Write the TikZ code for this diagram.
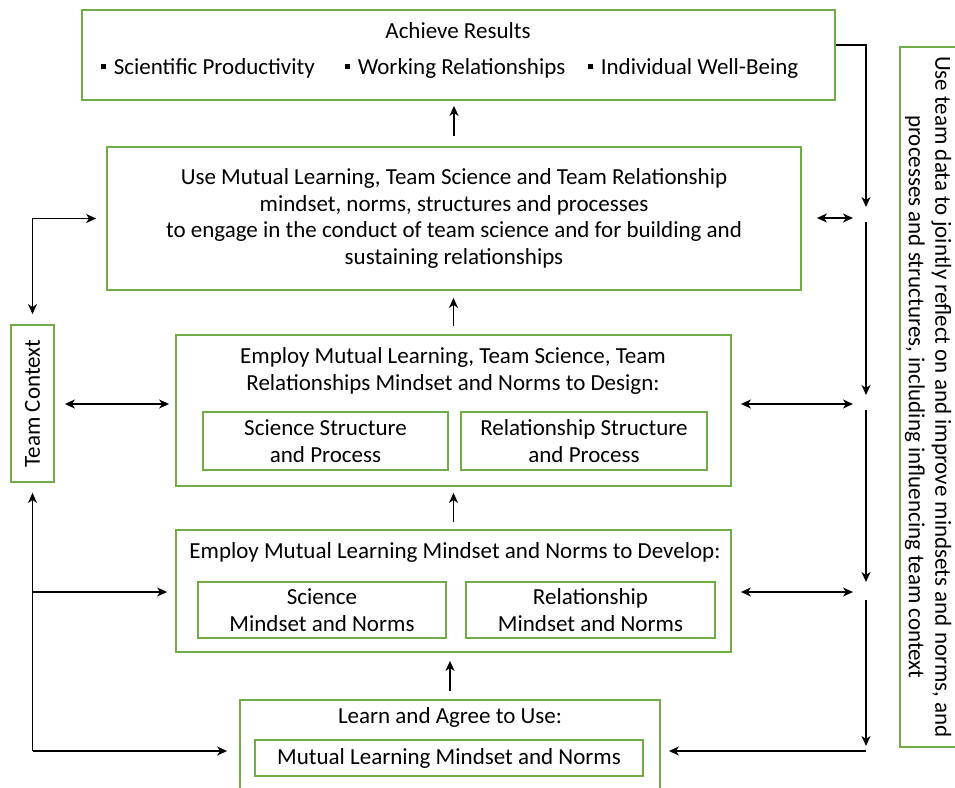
\documentclass[tikz,border=0pt]{standalone}
\usepackage{fontspec}
\setmainfont{Carlito}
\usepackage{tikz}
\usetikzlibrary{positioning,arrows.meta}
\definecolor{boxgreen}{HTML}{70AD47}
\newcommand{\sqbul}{\rule[0.22em]{0.2em}{0.2em}\hspace{0.35em}}

\begin{document}
\begin{tikzpicture}[x=1pt,y=-1pt,
	>={Stealth[length=10pt,width=9pt,inset=3pt]},
	gbox/.style={draw=boxgreen, line width=1.8pt, inner sep=0pt},
	txt/.style={align=center, font=\fontsize{23}{26.5}\selectfont, inner sep=0pt},
	conn/.style={line width=1.6pt}]
	\useasboundingbox (0,0) rectangle (955,787);
	% boxes, top to bottom
	\node[gbox, minimum width=753pt, minimum height=90pt] (results) at (458.5,55) {};
	\node[txt] (resultstitle) at (458,31) {Achieve Results};
	\node[txt, anchor=west] (prod) at (101,68) {\sqbul Scientific Productivity};
	\node[txt, anchor=west] (work) at (345,68) {\sqbul Working Relationships};
	\node[txt, anchor=west] (well) at (588,68) {\sqbul Individual Well-Being};
	\node[gbox, txt, minimum width=694pt, minimum height=143pt] (use) at (454,218.5)
		{Use Mutual Learning, Team Science and Team Relationship\\
		mindset, norms, structures and processes\\
		to engage in the conduct of team science and for building and\\
		sustaining relationships};
	\node[gbox, minimum width=555pt, minimum height=151pt] (design) at (453.5,410.5) {};
	\node[txt] (designtitle) at (453,371) {Employ Mutual Learning, Team Science, Team\\
		Relationships Mindset and Norms to Design:};
	\node[gbox, txt, minimum width=245pt, minimum height=58pt] (scistruct) at (325.5,441)
		{Science Structure\\ and Process};
	\node[gbox, txt, minimum width=246pt, minimum height=58pt] (relstruct) at (584,441)
		{Relationship Structure\\ and Process};
	\node[gbox, minimum width=555pt, minimum height=122pt] (develop) at (453.5,591) {};
	\node[txt] (developtitle) at (455,552) {Employ Mutual Learning Mindset and Norms to Develop:};
	\node[gbox, txt, minimum width=248pt, minimum height=56pt] (scimind) at (322,610)
		{Science\\ Mindset and Norms};
	\node[gbox, txt, minimum width=249pt, minimum height=56pt] (relmind) at (590.5,610)
		{Relationship\\ Mindset and Norms};
	\node[gbox, minimum width=420pt, minimum height=100pt] (learn) at (450,750) {};
	\node[txt] (learntitle) at (450,717) {Learn and Agree to Use:};
	\node[gbox, txt, minimum width=388pt, minimum height=36pt] (mlmind) at (449,758)
		{Mutual Learning Mindset and Norms};
	% side boxes
	\node[gbox, minimum width=43pt, minimum height=157pt] (tc) at (32.5,403.5) {};
	\node[txt, rotate=90] (tctext) at (tc) {Team Context};
	\node[gbox, minimum width=70pt, minimum height=700pt] (reflect) at (935,397) {};
	\node[txt, rotate=-90] (reflecttext) at (928,397)
		{Use team data to jointly reflect on and improve mindsets and norms, and\\
		processes and structures, including influencing team context};
	% right rail
	\coordinate (railtop) at (866,45);
	\coordinate (rail1) at (866,218);
	\coordinate (rail2) at (866,404);
	\coordinate (rail3) at (866,592);
	\coordinate (rail4) at (866,751);
	\draw[conn, ->, shorten >=11pt] (results.east |- railtop) -| (rail1);
	\draw[conn, ->, shorten <=4pt, shorten >=9pt] (rail1) -- (rail2);
	\draw[conn, ->, shorten <=6pt, shorten >=10pt] (rail2) -- (rail3);
	\draw[conn, ->, shorten <=8pt, shorten >=5pt] (rail3) -- (rail4);
	\draw[conn, ->, shorten >=8pt] (rail4) -- (rail4 -| learn.east);
	\draw[conn, <->, shorten <=15pt, shorten >=13pt] (use.east |- rail1) -- (rail1);
	\draw[conn, <->, shorten <=9pt, shorten >=13pt] (design.east |- rail2) -- (rail2);
	\draw[conn, <->, shorten <=9pt, shorten >=13pt] (develop.east |- rail3) -- (rail3);
	% upward flow
	\draw[conn, ->, shorten <=10pt, shorten >=5pt] (use.north) -- (use.north |- results.south);
	\draw[conn, ->, shorten <=8pt, shorten >=7pt] (design.north) -- (design.north |- use.south);
	\draw[conn, ->, shorten <=7pt, shorten >=6pt] (develop.north) -- (develop.north |- design.south);
	\draw[conn, ->, shorten <=8pt, shorten >=8pt] (learn.north) -- (learn.north |- develop.south);
	% team context links
	\draw[conn, <->, shorten <=10pt, shorten >=10pt] (tc.north) |- (use.west);
	\draw[conn, <->, shorten <=10pt, shorten >=6pt] (tc.east |- rail2) -- (design.west |- rail2);
	\draw[conn, ->, shorten >=10pt] (tc.south |- rail4) -- (tc.south);
	\draw[conn, ->, shorten >=8pt] (tc.south |- rail3) -- (develop.west |- rail3);
	\draw[conn, ->, shorten >=12pt] (tc.south |- rail4) -- (learn.west |- rail4);
\end{tikzpicture}
\end{document}
